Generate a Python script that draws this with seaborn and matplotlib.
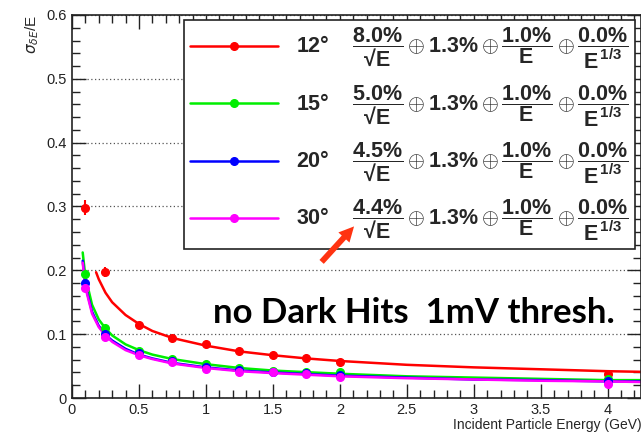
import numpy as np
import pandas as pd
import matplotlib
matplotlib.use("Agg")
import matplotlib.pyplot as plt
import seaborn as sns
from matplotlib.lines import Line2D
from matplotlib.ticker import MultipleLocator

# measured points (energy in GeV, relative resolution)
energy = [0.1, 0.25, 0.5, 0.75, 1.0, 1.25, 1.5, 1.75, 2.0, 4.0]
res_12 = [0.298, 0.198, 0.114, 0.094, 0.085, 0.073, 0.067, 0.063, 0.056, 0.037]
res_15 = [0.195, 0.110, 0.073, 0.061, 0.053, 0.047, 0.043, 0.040, 0.040, 0.029]
res_20 = [0.180, 0.101, 0.070, 0.058, 0.048, 0.044, 0.041, 0.039, 0.036, 0.027]
res_30 = [0.172, 0.096, 0.067, 0.057, 0.046, 0.041, 0.040, 0.037, 0.033, 0.022]
err_12 = [0.012, 0.008, 0.004, 0.003, 0.003, 0.003, 0.002, 0.002, 0.002, 0.004]
err_small = [0.004, 0.003, 0.002, 0.002, 0.002, 0.002, 0.002, 0.002, 0.002, 0.002]

# fit curves
fit_e_12 = [0.18, 0.2, 0.25, 0.3, 0.4, 0.5, 0.6, 0.75, 1.0, 1.25, 1.5, 1.75, 2.0, 2.5, 3.0, 3.5, 4.0, 4.25]
fit_12 = [0.197, 0.186, 0.165, 0.150, 0.130, 0.116, 0.105, 0.094, 0.082, 0.073, 0.067, 0.062, 0.058, 0.052, 0.048, 0.045, 0.042, 0.041]
fit_e = [0.08, 0.1, 0.15, 0.2, 0.25, 0.3, 0.4, 0.5, 0.6, 0.75, 1.0, 1.25, 1.5, 2.0, 2.5, 3.0, 3.5, 4.0, 4.25]
fit_15 = [0.228, 0.190, 0.146, 0.123, 0.109, 0.098, 0.084, 0.075, 0.068, 0.061, 0.053, 0.047, 0.043, 0.038, 0.034, 0.032, 0.030, 0.028, 0.028]
fit_20 = [0.215, 0.176, 0.135, 0.113, 0.099, 0.090, 0.077, 0.068, 0.062, 0.055, 0.048, 0.043, 0.040, 0.035, 0.032, 0.029, 0.028, 0.026, 0.026]
fit_30 = [0.212, 0.173, 0.132, 0.111, 0.098, 0.088, 0.075, 0.067, 0.061, 0.054, 0.047, 0.042, 0.039, 0.034, 0.031, 0.029, 0.027, 0.026, 0.025]

angles = ["12°", "15°", "20°", "30°"]
stoch = ["8.0", "5.0", "4.5", "4.4"]
colors = ["#ff0000", "#00ee00", "#0000ff", "#ff00ff"]
x_ticks = [0, 0.5, 1, 1.5, 2, 2.5, 3, 3.5, 4]
x_tick_labels = ["0", "0.5", "1", "1.5", "2", "2.5", "3", "3.5", "4"]
y_ticks = [0, 0.1, 0.2, 0.3, 0.4, 0.5, 0.6]
y_tick_labels = ["0", "0.1", "0.2", "0.3", "0.4", "0.5", "0.6"]

sns.set_theme(style="ticks")
plt.rcParams["font.family"] = ["Liberation Sans", "DejaVu Sans"]
plt.rcParams["mathtext.fontset"] = "custom"
plt.rcParams["mathtext.rm"] = "Liberation Sans:bold"
plt.rcParams["mathtext.it"] = "Liberation Sans:bold"
plt.rcParams["mathtext.bf"] = "Liberation Sans:bold"

fig = plt.figure(figsize=(6.41, 4.32), dpi=100)
ax = fig.add_axes([0.1123, 0.0787, 0.888, 0.8866])

curves = pd.concat([
    pd.DataFrame({"E": fit_e_12, "res": fit_12, "angle": angles[0]}),
    pd.DataFrame({"E": fit_e, "res": fit_15, "angle": angles[1]}),
    pd.DataFrame({"E": fit_e, "res": fit_20, "angle": angles[2]}),
    pd.DataFrame({"E": fit_e, "res": fit_30, "angle": angles[3]}),
])
sns.lineplot(data=curves, x="E", y="res", hue="angle", palette=colors,
             linewidth=1.8, legend=False, ax=ax, sort=False)

points = [res_12, res_15, res_20, res_30]
errs = [err_12, err_small, err_small, err_small]
for vals, ev, c in zip(points, errs, colors):
    ax.errorbar(energy, vals, yerr=ev, fmt="o", color=c, ms=5.5,
                elinewidth=1.5, capsize=0, zorder=3)

ax.set_xlim(0, 4.25)
ax.set_ylim(0, 0.6)
ax.set_xticks(x_ticks, x_tick_labels)
ax.set_yticks(y_ticks, y_tick_labels)
ax.xaxis.set_minor_locator(MultipleLocator(0.1))
ax.yaxis.set_minor_locator(MultipleLocator(0.02))
ax.tick_params(which="both", direction="in", top=True, right=True, labelsize=10.5,
               colors="#222222", width=1)
ax.tick_params(which="major", length=10)
ax.tick_params(which="minor", length=6)
ax.yaxis.grid(True, linestyle=(0, (1, 2)), color="#555555", linewidth=0.9)
for s in ax.spines.values():
    s.set_color("#222222")
    s.set_linewidth(1.2)

ax.set_xlabel("Incident Particle Energy (GeV)", fontsize=10, loc="right", labelpad=1)
ax.set_ylabel(r"$\sigma_{\delta E}$/E", fontsize=11, loc="top", labelpad=4,
              math_fontfamily="dejavusans")

handles = [Line2D([], [], color=c, marker="o", ms=5.5, lw=1.8) for c in colors]
labels = [a + "    " + r"$\dfrac{" + s + r"\%}{√E}\oplus 1.3\%\oplus\dfrac{1.0\%}{E}\oplus\dfrac{0.0\%}{E^{1/3}}$"
          for a, s in zip(angles, stoch)]
leg = ax.legend(handles, labels, loc="upper right", bbox_to_anchor=(0.989, 0.988),
                frameon=True, fancybox=False, edgecolor="#222222", framealpha=1,
                prop={"size": 15.5, "weight": "bold"}, handlelength=4.1, labelspacing=0.55,
                borderpad=0.3, handletextpad=0.8, borderaxespad=0)
leg.get_frame().set_linewidth(1.2)

ax.text(0.6, 0.222, "no Dark Hits  1mV thresh.", transform=ax.transAxes,
        family=["Lato", "DejaVu Sans"], weight="bold", fontsize=25,
        ha="center", va="center", color="black")

ax.annotate("", xy=(2.12, 0.272), xytext=(1.85, 0.21), zorder=6,
            arrowprops=dict(arrowstyle="simple,head_length=0.9,head_width=0.9,tail_width=0.35",
                            color="#ff3311", lw=0))

fig.savefig("out.png", dpi=100)
